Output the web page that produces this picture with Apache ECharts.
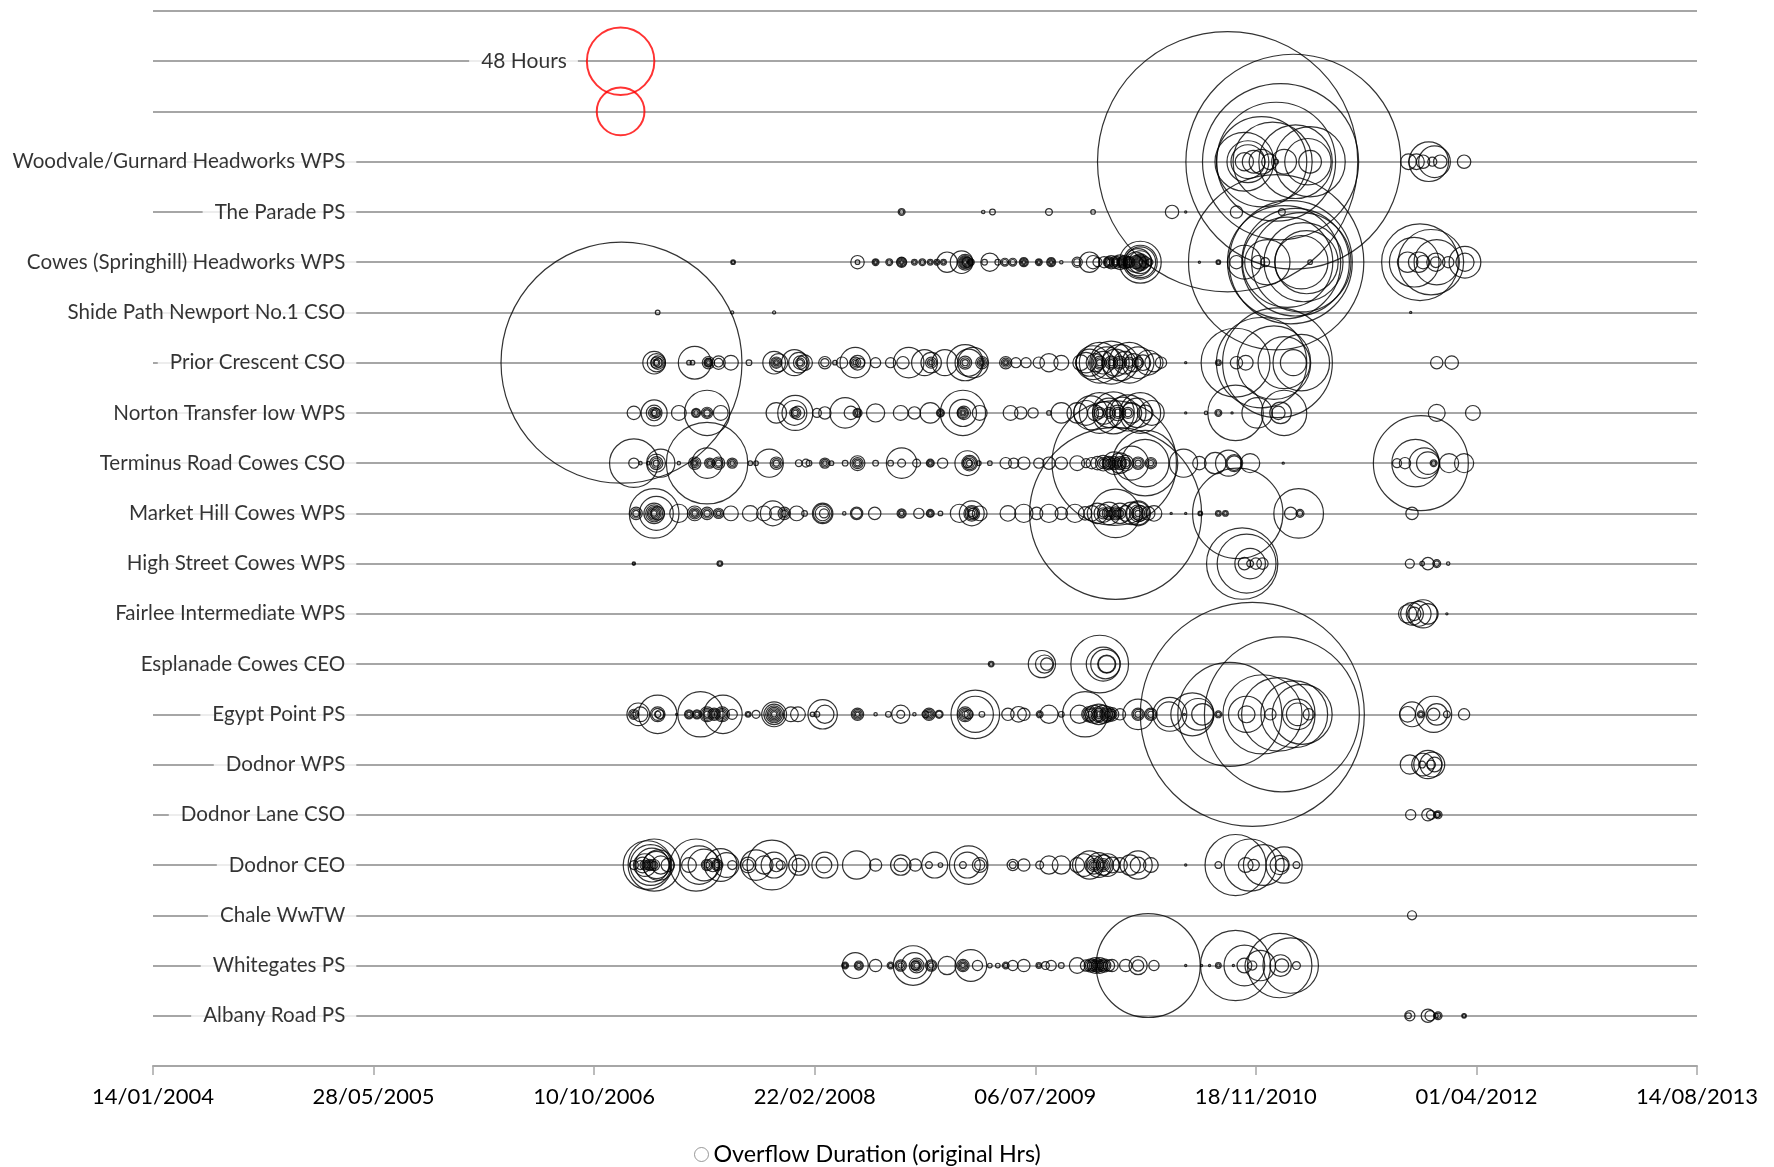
<!DOCTYPE html>
<html>
<head>
<meta charset="utf-8">
<script src="https://cdn.jsdelivr.net/npm/echarts@6/dist/echarts.min.js"></script>
<style>html,body{margin:0;padding:0;background:#fff}#c{width:1774px;height:1167px}</style>
</head>
<body>
<div id="c"></div>
<script>
// Each point: [date as Excel day serial, overflow duration in hours]
const woodvale = [[40436,714],[40585,487],[40556,257],[40546,149],[40513,86],[40538,66],[40590,57],[40623,52],[40474,36.5],[40482,18.5],[40618,22.7],[40482,12.1],[40495,5.4],[40513,6.5],[40531,2.6],[40546,0.22],[40564,6.5],[40623,5.4],[40474,3.5],
  [40892,16.5],[40905,10.6],[40846,2.6],[40864,2.6],[40879,1.9],[40900,0.86],[40918,1.9],[40972,1.9]];
const parade = [[39697,0.49],[39697,0.2],[39882,0.12],[39903,0.34],[40031,0.49],[40131,0.22],[40310,1.9],[40341,0.05],[40456,1.6],[40559,0.49]];
const cowes = [[39315,0.22],[39315,0.1],[39597,1.9],[39597,0.22],[39638,0.49],[39638,0.26],[39638,0.1],[39669,0.49],[39669,0.2],[39697,1.1],[39697,0.85],[39697,0.52],[39697,0.26],[39697,0.1],[39726,0.34],[39726,0.12],[39744,0.49],[39744,0.2],[39762,0.34],[39762,0.12],[39777,0.34],[39777,0.12],[39792,0.34],[39792,0.12],[39800,4.4],[39833,5.4],[39841,2.6],[39841,1.78],[39841,1.28],[39841,0.85],[39841,0.52],[39841,0.26],[39841,0.1],[39846,1.1],[39854,0.49],[39854,0.2],[39897,3.5],[39885,0.34],[39915,0.34],[39931,0.66],[39931,0.3],[39949,0.66],[39949,0.3],[39974,0.86],[39974,0.52],[39974,0.26],[39974,0.1],[40008,0.49],[40008,0.26],[40008,0.1],[40036,0.86],[40036,0.52],[40036,0.26],[40036,0.1],[40059,0.12],[40095,1.1],[40095,0.5],[40123,4.4],[40131,1.9],[40141,0.86],[40156,1.35],[40167,1.28],[40167,0.85],[40167,0.52],[40167,0.26],[40172,1.9],[40182,1.6],[40182,0.85],[40182,0.52],[40182,0.26],[40192,2.3],[40197,1.28],[40197,0.85],[40197,0.52],[40197,0.26],[40203,1.9],[40210,1.28],[40210,0.85],[40210,0.52],[40210,0.26],[40213,1.35],
  [40238,18.5],[40238,12.1],[40238,10],[40233,7.8],[40238,5.5],[40228,4.4],[40238,3.1],[40238,2.4],[40228,1.9],[40238,1.78],[40238,1.28],[40238,0.85],[40238,0.52],[40238,0.26],[40238,0.1],[40249,1.35],[40259,0.49],[40372,0.05],[40415,0.22],[40415,0.1],
  [40546,324],[40579,160],[40564,135],[40590,122],[40603,104],[40572,86],[40608,66],[40615,42],[40603,30],[40526,21.6],[40474,12.1],[40505,1.9],[40456,1.9],[40521,0.86],[40623,0.22],
  [40872,62],[40897,45],[40859,26],[40910,21.6],[40844,4.4],[40869,4.4],[40879,1.9],[40908,3.5],[40908,1.2],[40936,1.35],[40974,10.6],[40974,3.5]];
const shide = [[39144,0.22],[39313,0.1],[39408,0.1],[40851,0.05]];
const prior = [[39062,612],[39136,5.4],[39141,3.5],[39144,1.9],[39141,1.28],[39146,0.86],[39141,0.52],[39141,0.26],[39228,11.3],[39215,0.22],[39223,0.22],[39259,1.6],[39259,0.85],[39259,0.66],[39259,0.4],[39259,0.15],[39282,1.9],[39282,0.8],[39310,2.3],[39351,0.34],[39408,5.4],[39418,3.5],[39413,1.35],[39413,0.85],[39413,0.4],[39413,0.15],[39454,7.1],[39464,4.4],[39467,1.9],[39467,0.85],[39467,0.4],[39477,2.6],[39523,1.6],[39523,0.7],[39546,0.22],[39562,1.35],[39592,9.8],[39592,1.28],[39592,0.6],[39592,0.2],[39597,2.3],[39603,0.86],[39638,1.1],[39672,1.1],[39700,1.6],[39713,9.8],[39749,7.1],[39764,4.4],[39764,1.3],[39764,0.6],[39764,0.2],[39795,7.1],[39841,13.8],[39841,1.8],[39841,1],[39841,0.4],[39849,7.8],[39859,9.8],[39879,1.6],[39879,0.85],[39879,0.4],[39879,0.15],[39933,1.6],[39933,0.85],[39933,0.4],[39933,0.15],[39956,1.1],[39979,1.1],[40008,1.35],[40031,3.5],[40059,2.3],
  [40103,2.6],[40115,4.4],[40123,7.8],[40131,12.1],[40136,3.5],[40146,17.5],[40146,1.8],[40146,1],[40146,0.4],[40154,5.4],[40162,10.6],[40172,19.5],[40172,1.8],[40172,1],[40172,0.4],[40182,7.8],[40192,13.8],[40192,1.8],[40192,1],[40192,0.4],[40203,5.4],[40213,17.5],[40213,1.3],[40213,0.6],[40223,3.5],[40233,10.6],[40233,1.3],[40233,0.6],[40244,2.6],[40256,6.5],[40269,3.5],[40285,1.35],
  [40341,0.05],[40415,0.34],[40415,0.12],[40454,50],[40456,1.6],[40477,2.3],[40541,57],[40549,127],[40513,86],[40564,28.6],[40585,7.1],[40603,33.7],[40910,1.6],[40944,1.9]];
const norton = [[39090,1.9],[39136,7.1],[39136,2.6],[39136,1.3],[39141,0.86],[39136,0.7],[39136,0.3],[39192,2.3],[39231,0.86],[39231,0.5],[39231,0.2],[39256,21.6],[39256,1.35],[39256,0.8],[39256,0.4],[39287,2.3],[39413,4.4],[39454,6.5],[39456,13],[39462,1.9],[39456,1.3],[39456,0.7],[39456,0.3],[39505,0.86],[39523,1.6],[39569,9.8],[39582,1.9],[39597,0.86],[39597,0.5],[39597,0.2],[39638,3.5],[39695,2.3],[39726,1.6],[39762,4.4],[39785,0.66],[39785,0.4],[39785,0.15],[39836,21.6],[39836,7.8],[39838,1.9],[39836,1.3],[39836,0.85],[39836,0.4],[39836,0.15],[39874,2.3],[39944,2.3],[39967,1.6],[39995,1.1],[40031,0.22],[40059,4.4],
  [40095,4.4],[40115,6.5],[40126,12.1],[40136,2.6],[40146,17.5],[40146,1.3],[40146,0.6],[40156,5.4],[40167,9.1],[40167,1.3],[40167,0.6],[40177,18.5],[40187,2.6],[40187,1.3],[40187,0.6],[40197,10.6],[40210,13.8],[40210,1.3],[40210,0.6],[40218,4.4],[40231,9.1],[40238,17.5],[40249,2.6],[40264,6.5],
  [40341,0.05],[40387,0.12],[40415,0.49],[40415,0.2],[40446,0.05],[40454,32.4],[40503,9.8],[40564,21.6],[40556,4.9],[40551,1.9],[40910,3.0],[40992,2.3]];
const terminus = [[39090,24.9],[39090,1.1],[39105,0.12],[39123,0.12],[39141,3.5],[39141,1.8],[39141,1],[39141,0.4],[39151,8.4],[39192,0.12],[39228,1.6],[39228,0.85],[39228,0.4],[39228,0.15],[39256,70],[39256,9.8],[39262,1.1],[39262,0.6],[39262,0.2],[39282,1.6],[39282,0.85],[39282,0.4],[39313,1.1],[39313,0.6],[39313,0.2],[39354,0.22],[39367,0.22],[39397,8.4],[39413,1.6],[39413,0.85],[39413,0.4],[39464,0.49],[39480,0.66],[39487,0.34],[39523,1.1],[39523,0.6],[39523,0.2],[39538,0.22],[39569,0.34],[39597,2.3],[39597,1.3],[39597,0.7],[39597,0.3],[39638,0.34],[39672,0.34],[39697,9.8],[39697,0.66],[39731,0.66],[39762,0.66],[39762,0.4],[39762,0.15],[39790,1.1],[39846,6.5],[39851,2.6],[39851,1.8],[39851,1],[39851,0.4],[39846,0.86],[39872,0.22],[39897,0.22],[39933,1.35],[39951,1.1],[39974,1.6],[40008,1.1],[40031,1.6],[40059,1.6],
  [40095,2.3],[40115,0.86],[40128,1.35],[40141,1.9],[40154,2.6],[40154,1.3],[40154,0.6],[40167,1.9],[40167,1.3],[40167,0.6],[40179,163],[40179,5.4],[40179,1.8],[40179,1],[40179,0.4],[40192,4.4],[40192,1.8],[40192,1],[40192,0.4],[40205,2.6],[40205,1.3],[40205,0.6],[40218,12.1],[40249,45],[40249,23.8],[40233,1.6],[40233,1],[40233,0.4],[40262,1.35],[40262,0.8],[40262,0.3],
  [40336,8.4],[40372,1.9],[40408,4.9],[40438,7.1],[40451,3.0],[40451,2.2],[40487,3.9],[40562,0.05],
  [40874,95],[40862,23.8],[40882,9.8],[40890,5.4],[40820,0.86],[40838,1.35],[40903,0.49],[40903,0.2],[40938,3.9],[40972,3.9]];
const marketHill = [[39095,1.6],[39095,0.85],[39095,0.4],[39136,4.4],[39136,26],[39141,12.1],[39144,1.9],[39136,3],[39136,2],[39136,1.3],[39136,0.7],[39136,0.3],[39192,3.5],[39228,2.3],[39228,1.3],[39228,0.7],[39228,0.3],[39256,1.6],[39256,0.85],[39256,0.4],[39282,1.1],[39282,0.6],[39282,0.2],[39310,2.3],[39354,2.6],[39385,2.3],[39405,6.5],[39413,1.9],[39431,1.6],[39431,0.85],[39431,0.4],[39459,2.3],[39477,0.34],[39518,4.4],[39518,3.6],[39518,2.3],[39521,0.86],[39567,0.12],[39595,1.6],[39595,1.1],[39636,1.6],[39697,0.86],[39697,0.5],[39697,0.2],[39736,1.1],[39762,0.66],[39762,0.4],[39762,0.15],[39785,0.22],[39828,3.5],[39856,6.5],[39856,2.6],[39859,1.1],[39856,1.8],[39856,1],[39856,0.4],[39874,2.3],[39938,2.6],[39974,3.5],[40003,1.6],[40031,3.5],[40059,1.6],
  [40090,3.5],[40113,1.9],[40128,2.6],[40141,4.4],[40154,3.5],[40154,1.3],[40154,0.6],[40182,312],[40182,24.9],[40167,5.4],[40167,1.8],[40167,1],[40167,0.4],[40182,1.8],[40182,1],[40182,0.4],[40192,4.4],[40192,1.3],[40192,0.6],[40205,2.6],[40218,5.4],[40233,6.5],[40233,5.6],[40233,3],[40233,1.8],[40233,1],[40233,0.4],[40238,2.6],[40256,1.9],[40269,2.6],
  [40308,0.05],[40341,0.05],[40374,0.22],[40374,0.1],[40415,0.34],[40415,0.12],[40431,0.34],[40431,0.12],[40459,86],[40597,26],[40579,1.6],[40600,0.66],[40600,0.3],[40854,1.6]];
const highStreet = [[39090,0.12],[39090,0.05],[39285,0.34],[39285,0.15],[40469,53.6],[40479,36.5],[40487,9.8],[40474,1.6],[40487,0.49],[40500,1.35],[40515,1.35],[40849,0.86],[40877,0.22],[40890,1.6],[40910,0.66],[40910,0.3],[40936,0.12]];
const fairlee = [[40844,3.5],[40854,5.4],[40869,6.5],[40879,8.4],[40890,4.4],[40859,1.9],[40933,0.05]];
const esplanade = [[39900,0.34],[39900,0.15],[40015,7.8],[40021,3.5],[40026,1.6],[40146,35.1],[40154,12.1],[40159,9.1],[40162,3.5],[40162,3.0]];
const egypt = [[39090,1.1],[39090,0.6],[39090,0.2],[39100,5.4],[39105,2.3],[39144,15.6],[39144,2.3],[39144,1.5],[39149,0.86],[39144,0.4],[39187,0.05],[39215,0.86],[39215,0.5],[39215,0.2],[39233,0.86],[39233,0.5],[39233,0.2],[39241,21.6],[39256,2.3],[39256,1.5],[39256,0.85],[39256,0.4],[39272,1.6],[39272,1],[39272,0.5],[39290,2.3],[39290,1.5],[39290,0.85],[39290,0.4],[39292,15.6],[39313,1.1],[39349,0.34],[39349,0.15],[39367,0.66],[39408,4.4],[39408,6.5],[39408,3],[39408,2],[39408,1.3],[39408,0.7],[39408,0.3],[39446,2.3],[39462,2.3],[39495,0.22],[39505,0.34],[39518,9.1],[39523,3.5],[39597,1.6],[39597,1],[39597,0.5],[39597,0.2],[39638,0.12],[39667,0.34],[39695,3.5],[39695,0.66],[39726,0.12],[39751,0.49],[39759,1.6],[39759,1],[39759,0.5],[39759,0.2],[39782,0.66],[39782,0.4],[39841,2.3],[39841,1.5],[39841,0.85],[39841,0.4],[39849,0.86],[39864,24.9],[39864,13.8],[39879,0.34],[39938,1.6],[39962,2.6],[39974,1.6],[40010,0.49],[40010,0.2],[40031,3.5],[40059,0.34],
  [40100,3.5],[40113,21.6],[40123,2.6],[40123,1.8],[40123,1],[40123,0.4],[40133,3.5],[40144,4.4],[40144,2.5],[40144,1.5],[40144,0.8],[40144,0.3],[40154,3.5],[40164,2.6],[40164,1.8],[40164,1],[40164,0.4],[40174,1.9],[40174,1],[40174,0.4],[40192,1.35],[40233,9.8],[40233,1.6],[40233,1],[40233,0.4],[40262,1.6],[40262,1],[40262,0.4],[40303,6.5],[40305,12.1],
  [40338,0.05],[40356,19.5],[40369,10.6],[40379,4.9],[40415,0.49],[40415,0.2],[40441,114],[40479,13.8],[40479,3.0],[40492,529],[40515,66],[40533,1.35],[40551,57],[40559,253],[40587,47],[40595,9.8],[40595,5.4],[40605,37.9],[40620,1.35],
  [40844,2.6],[40854,6.5],[40874,0.49],[40874,0.2],[40903,13.8],[40903,1.6],[40910,4.9],[40933,0.49],[40972,1.35]];
const dodnorWPS = [[40849,3.9],[40879,5.4],[40890,8.4],[40900,6.5],[40905,2.3],[40897,0.86],[40877,0.49]];
const dodnorLane = [[40851,1.1],[40890,1.6],[40897,0.86],[40913,0.66],[40913,0.3],[40910,0.34]];
const dodnorCEO = [[39121,24.9],[39128,17.5],[39131,12.1],[39136,28.6],[39141,7.8],[39115,5.4],[39110,2.6],[39126,1.35],[39126,0.85],[39126,0.4],[39136,1.3],[39136,0.6],[39115,1],[39115,0.4],[39090,0.86],[39105,0.86],[39146,9.8],[39151,3.5],[39167,1.9],[39215,2.3],[39231,28.6],[39238,15.6],[39249,10.6],[39256,1.35],[39256,0.8],[39256,0.3],[39269,1.9],[39279,1.35],[39279,0.8],[39279,0.3],[39287,11.3],[39300,6.5],[39313,0.86],[39349,2.6],[39349,1.3],[39367,9.8],[39385,3.5],[39403,26.1],[39408,7.1],[39413,1.9],[39423,0.86],[39464,4.4],[39464,1.9],[39523,7.1],[39521,2.6],[39595,8.4],[39638,1.6],[39695,4.4],[39695,1.9],[39728,1.6],[39759,0.49],[39772,7.1],[39785,0.22],[39849,15.6],[39846,7.1],[39836,0.49],[39874,2.3],[39874,1.1],[39949,1.35],[39949,0.49],[39974,1.6],[40010,0.66],[40031,3.5],[40059,3.5],
  [40095,2.3],[40110,5.4],[40123,8.4],[40133,3.5],[40133,1.8],[40133,1],[40133,0.4],[40144,6.5],[40154,4.4],[40154,1.8],[40154,1],[40154,0.4],[40164,5.4],[40174,2.6],[40192,2.3],[40215,4.4],[40233,8.4],[40233,2.6],[40262,2.3],
  [40341,0.05],[40415,0.49],[40454,39.3],[40487,28.6],[40477,2.3],[40518,17.5],[40495,1.35],[40564,13.8],[40554,3.9],[40559,1.9],[40592,0.49]];
const chale = [[40854,0.86]];
const whitegates = [[39569,0.49],[39569,0.25],[39569,0.1],[39592,7.1],[39600,0.86],[39600,0.5],[39600,0.2],[39638,1.6],[39672,0.49],[39672,0.2],[39695,1.35],[39695,0.8],[39695,0.3],[39723,16.5],[39726,7.1],[39731,2.3],[39731,1.3],[39731,0.7],[39731,0.3],[39728,0.86],[39764,1.35],[39764,0.8],[39764,0.3],[39800,3.5],[39836,1.6],[39836,1],[39836,0.5],[39836,0.2],[39854,10.6],[39869,1.1],[39897,0.22],[39915,0.22],[39933,0.49],[39933,0.2],[39949,1.1],[39974,1.6],[40008,0.34],[40008,0.12],[40023,0.66],[40036,1.1],[40059,0.34],
  [40095,2.6],[40115,1.35],[40126,1.9],[40126,1.2],[40126,0.5],[40136,2.6],[40136,1.5],[40136,0.8],[40136,0.3],[40146,2.6],[40146,1.5],[40146,0.8],[40146,0.3],[40156,1.9],[40156,1.2],[40156,0.5],[40167,1.35],[40174,1.6],[40205,1.6],[40233,3.5],[40233,1.35],[40256,114],[40269,1.1],
  [40341,0.05],[40377,0.05],[40395,0.05],[40415,0.34],[40415,0.12],[40449,0.05],[40454,51.9],[40474,17.5],[40474,2.3],[40492,0.86],[40510,9.8],[40554,43.8],[40579,32.4],[40556,4.9],[40559,1.9],[40592,0.66]];
const albany = [[40849,1.1],[40846,0.34],[40890,1.9],[40895,1.1],[40913,0.66],[40913,0.3],[40908,0.22],[40972,0.22],[40972,0.1]];

// rows from the bottom (1) upwards
const rowNames = ['Albany Road PS','Whitegates PS','Chale WwTW','Dodnor CEO','Dodnor Lane CSO','Dodnor WPS','Egypt Point PS','Esplanade Cowes CEO','Fairlee Intermediate WPS','High Street Cowes WPS','Market Hill Cowes WPS','Terminus Road Cowes CSO','Norton Transfer Iow WPS','Prior Crescent CSO','Shide Path Newport No.1 CSO','Cowes (Springhill) Headworks WPS','The Parade PS','Woodvale/Gurnard Headworks WPS'];
const rowData = [albany,whitegates,chale,dodnorCEO,dodnorLane,dodnorWPS,egypt,esplanade,fairlee,highStreet,marketHill,terminus,norton,prior,shide,cowes,parade,woodvale];

// size key (red bubbles)
const keyNames = ['48 Hours',''];
const keyHours = [48, 24];
const keyRows = [20, 19];
const keyDate = 39060;

// axis
const xMin = 38000, xMax = 41500, xStep = 500;
const seriesName = 'Overflow Duration (original Hrs)';

const mainData = [];
rowData.forEach((arr, i) => arr.forEach(p => mainData.push([p[0], i + 1, p[1]])));

const sizeFn = v => 9.74 * Math.sqrt(v[2]);
const FONT = 'Lato';
function fmtDate(v) {
  const d = new Date(Date.UTC(1899, 11, 30) + v * 86400000);
  const dd = String(d.getUTCDate()).padStart(2, '0');
  const mm = String(d.getUTCMonth() + 1).padStart(2, '0');
  return dd + '/' + mm + '/' + d.getUTCFullYear();
}

const chart = echarts.init(document.getElementById('c'));
chart.setOption({
  animation: false,
  backgroundColor: '#ffffff',
  textStyle: { fontFamily: FONT },
  grid: { left: 153, right: 77, top: 11, bottom: 101 },
  xAxis: {
    type: 'value', min: xMin, max: xMax, interval: xStep,
    axisLine: { show: true, onZero: false, lineStyle: { color: '#a6a6a6', width: 2 } },
    axisTick: { show: true, length: 9, lineStyle: { color: '#a6a6a6', width: 1.5 } },
    axisLabel: { formatter: fmtDate, fontSize: 22, color: '#000', margin: 20, fontFamily: FONT },
    splitLine: { show: false }
  },
  yAxis: {
    type: 'value', min: 0, max: 21, interval: 1,
    axisLine: { show: false }, axisTick: { show: false }, axisLabel: { show: false },
    splitLine: { show: true, lineStyle: { color: '#a6a6a6', width: 2 } }
  },
  legend: {
    data: [seriesName], left: 689, top: 1138, icon: 'circle',
    itemWidth: 14, itemHeight: 14,
    itemStyle: { color: '#ffffff', borderColor: '#7f7f7f', borderWidth: 1 },
    textStyle: { fontSize: 23.3, color: '#000', fontFamily: FONT }
  },
  series: [
    {
      type: 'scatter', name: seriesName, data: mainData, symbolSize: sizeFn,
      itemStyle: { color: 'rgba(0,0,0,0)', borderColor: '#000000', borderWidth: 1.2 },
      silent: true, emphasis: { disabled: true }, z: 2
    },
    {
      type: 'scatter', name: 'key', symbolSize: sizeFn,
      data: keyHours.map((h, i) => ({ name: keyNames[i], value: [keyDate, keyRows[i], h], label: { show: i === 0 } })),
      itemStyle: { color: 'rgba(0,0,0,0)', borderColor: '#ff0000', borderWidth: 2 },
      label: { position: 'left', distance: 8, formatter: '{b}', fontSize: 21, color: '#000', fontFamily: FONT, backgroundColor: '#fff', padding: [2, 11, 2, 12] },
      silent: true, emphasis: { disabled: true }, z: 3
    },
    {
      type: 'scatter', name: 'labels', symbolSize: 1,
      data: rowNames.map((n, i) => ({ name: n, value: [38462, i + 1] })),
      itemStyle: { color: 'rgba(0,0,0,0)' },
      label: { show: true, position: 'left', distance: 0, formatter: '{b}', fontSize: 20.6, color: '#000', fontFamily: FONT, backgroundColor: '#fff', padding: [2, 11, 2, 12] },
      silent: true, emphasis: { disabled: true }, z: 4
    }
  ]
});
</script>
</body>
</html>
